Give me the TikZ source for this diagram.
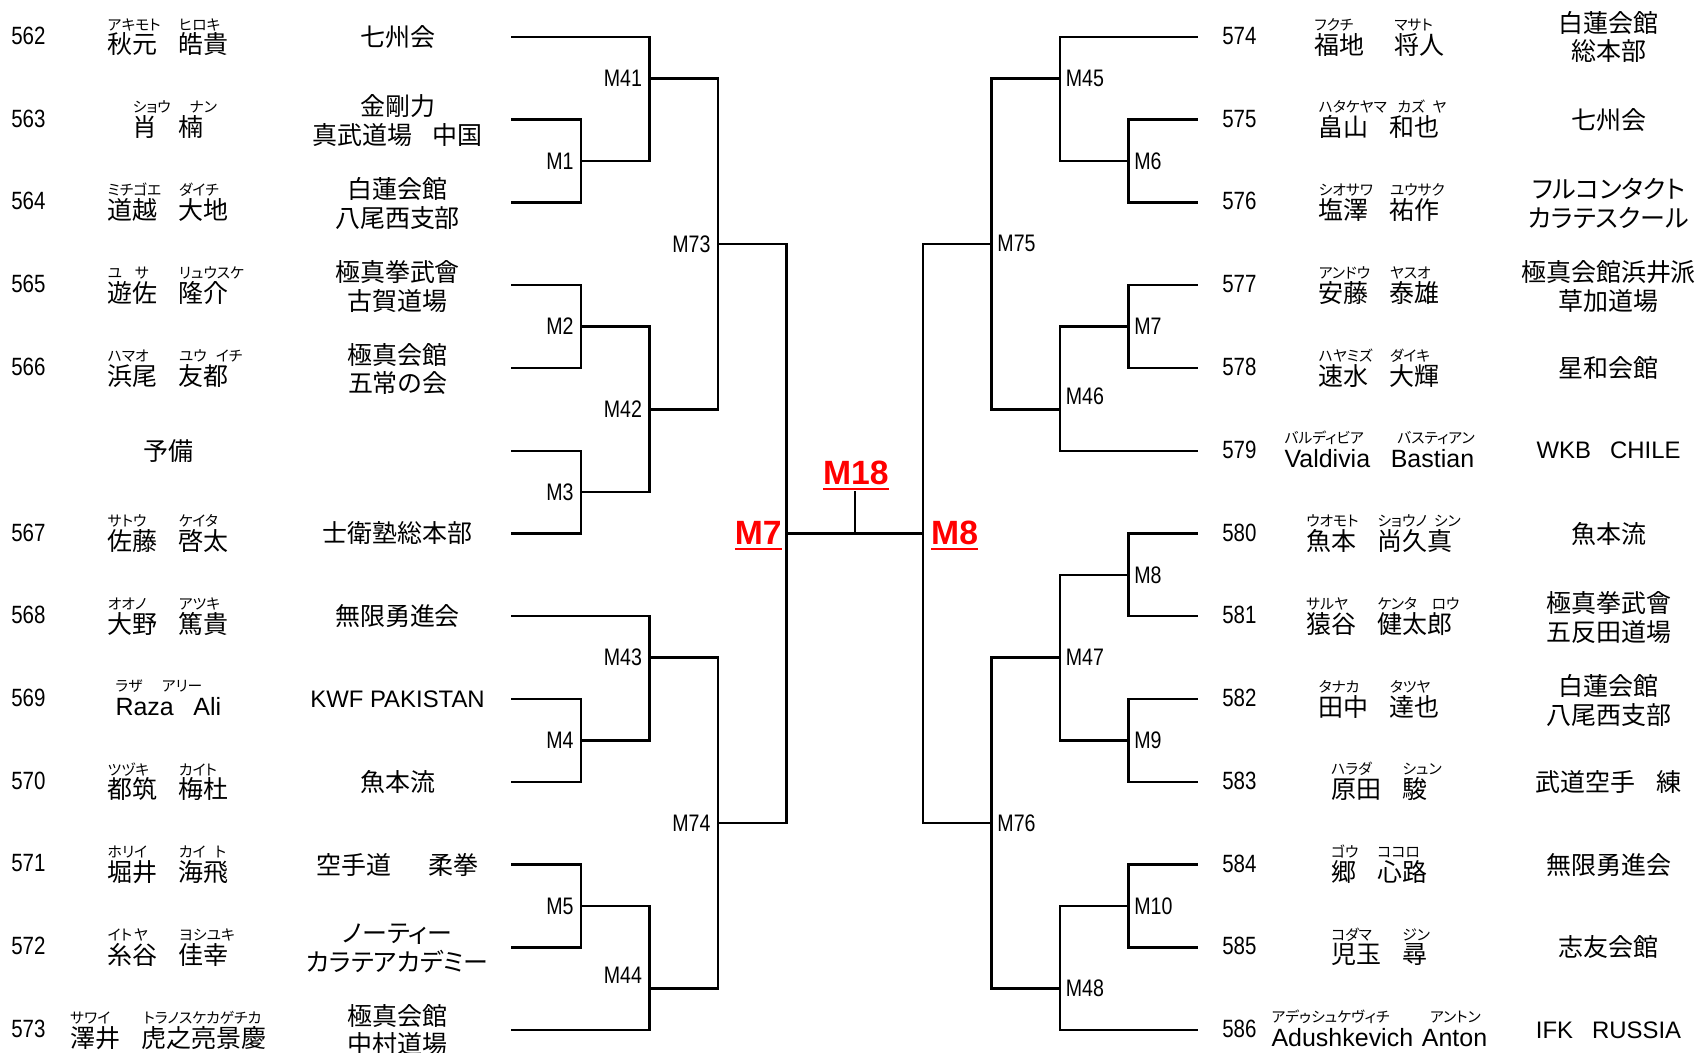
\documentclass[tikz,border=0pt]{standalone}
\usepackage{fontspec}
\setmainfont{Noto Sans CJK JP}
\newfontfamily\jp{Noto Sans CJK JP}
\newfontfamily\jpp[RawFeature=+palt]{Noto Sans CJK JP}
\newfontfamily\lat{Liberation Sans}
\newfontfamily\narrow[FakeStretch=0.82]{Liberation Sans}
\newcommand\rbf{\jpp\fontsize{6.8pt}{6.8pt}\selectfont}
\newcommand\rw[3][0pt]{\rlap{\hspace*{#1}\raisebox{11pt}[0pt][0pt]{\rbf #3}}{#2}}
\newcommand\gp{\hspace{0.85em}}
\newcommand\ry[1]{34+76.2*(#1)}
\newlength\ulw
\newcommand\ulred[1]{\settowidth\ulw{#1}\rlap{\rule[-2.8pt]{\ulw}{1pt}}#1}
\begin{document}
\begin{tikzpicture}[x=0.5pt,y=-0.5pt,
  brk/.style={line width=1.1pt,line cap=rect},
  num/.style={anchor=west,inner sep=0pt,font=\narrow\fontsize{11.5pt}{12pt}\selectfont},
  nm/.style={inner sep=0pt,font=\jp\fontsize{11.5pt}{13pt}\selectfont},
  dj/.style={inner sep=0pt,align=center,font=\jpp\fontsize{11.5pt}{13.25pt}\selectfont},
  ml/.style={inner sep=0pt,font=\narrow\fontsize{11pt}{12pt}\selectfont},
  mll/.style={ml,anchor=east,xshift=-3.25pt},
  mlr/.style={ml,anchor=west,xshift=2.5pt},
  fin/.style={inner sep=0pt,text=red,font=\lat\bfseries\fontsize{15.5pt}{16pt}\selectfont}]
\useasboundingbox (0,0) rectangle (1568,969);
\fill[white] (0,0) rectangle (1568,969);

% entry points
\foreach \k in {0,...,12}{
  \coordinate (L\k) at (472,{\ry{\k}});
  \coordinate (R\k) at (1102,{\ry{\k}});
}
% left junctions
\coordinate (m1)  at (535,{\ry{1.5}});
\coordinate (m41) at (598,{\ry{0.5}});
\coordinate (m2)  at (535,{\ry{3.5}});
\coordinate (m3)  at (535,{\ry{5.5}});
\coordinate (m42) at (598,{\ry{4.5}});
\coordinate (m73) at (661,{\ry{2.5}});
\coordinate (m4)  at (535,{\ry{8.5}});
\coordinate (m43) at (598,{\ry{7.5}});
\coordinate (m5)  at (535,{\ry{10.5}});
\coordinate (m44) at (598,{\ry{11.5}});
\coordinate (m74) at (661,{\ry{9.5}});
\coordinate (sfl) at (724,{\ry{6}});
% right junctions
\coordinate (m6)  at (1039,{\ry{1.5}});
\coordinate (m45) at (976,{\ry{0.5}});
\coordinate (mr7) at (1039,{\ry{3.5}});
\coordinate (m46) at (976,{\ry{4.5}});
\coordinate (m75) at (913,{\ry{2.5}});
\coordinate (mr8) at (1039,{\ry{6.5}});
\coordinate (m9)  at (1039,{\ry{8.5}});
\coordinate (m47) at (976,{\ry{7.5}});
\coordinate (m10) at (1039,{\ry{10.5}});
\coordinate (m48) at (976,{\ry{11.5}});
\coordinate (m76) at (913,{\ry{9.5}});
\coordinate (sfr) at (850,{\ry{6}});
\coordinate (fmid) at (787,{\ry{6}});
\coordinate (ftop) at (787,453);

% left bracket
\draw[brk] (L1) -| (m1) |- (L2);
\draw[brk] (L0) -| (m41) |- (m1);
\draw[brk] (L3) -| (m2) |- (L4);
\draw[brk] (L5) -| (m3) |- (L6);
\draw[brk] (m2) -| (m42) |- (m3);
\draw[brk] (m41) -| (m73) |- (m42);
\draw[brk] (L8) -| (m4) |- (L9);
\draw[brk] (L7) -| (m43) |- (m4);
\draw[brk] (L10) -| (m5) |- (L11);
\draw[brk] (m5) -| (m44) |- (L12);
\draw[brk] (m43) -| (m74) |- (m44);
\draw[brk] (m73) -| (sfl) |- (m74);
% right bracket
\draw[brk] (R1) -| (m6) |- (R2);
\draw[brk] (R0) -| (m45) |- (m6);
\draw[brk] (R3) -| (mr7) |- (R4);
\draw[brk] (mr7) -| (m46) |- (R5);
\draw[brk] (m45) -| (m75) |- (m46);
\draw[brk] (R6) -| (mr8) |- (R7);
\draw[brk] (R8) -| (m9) |- (R9);
\draw[brk] (mr8) -| (m47) |- (m9);
\draw[brk] (R10) -| (m10) |- (R11);
\draw[brk] (m10) -| (m48) |- (R12);
\draw[brk] (m47) -| (m76) |- (m48);
\draw[brk] (m75) -| (sfr) |- (m76);
% final
\draw[brk] (sfl) -- (sfr);
\draw[brk] (fmid) -- (ftop);

% match labels
\node[mll] (tM1) at (m1) {M1};
\node[mll] (tM41) at (m41) {M41};
\node[mll] (tM2) at (m2) {M2};
\node[mll] (tM3) at (m3) {M3};
\node[mll] (tM42) at (m42) {M42};
\node[mll] (tM73) at (m73) {M73};
\node[mll] (tM4) at (m4) {M4};
\node[mll] (tM43) at (m43) {M43};
\node[mll] (tM5) at (m5) {M5};
\node[mll,yshift=6pt] (tM44) at (m44) {M44};
\node[mll] (tM74) at (m74) {M74};
\node[mlr] (tM45) at (m45) {M45};
\node[mlr] (tM6) at (m6) {M6};
\node[mlr] (tM75) at (m75) {M75};
\node[mlr] (tM7r) at (mr7) {M7};
\node[mlr,yshift=6pt] (tM46) at (m46) {M46};
\node[mlr] (tM8r) at (mr8) {M8};
\node[mlr] (tM47) at (m47) {M47};
\node[mlr] (tM9) at (m9) {M9};
\node[mlr] (tM76) at (m76) {M76};
\node[mlr] (tM10) at (m10) {M10};
\node[mlr] (tM48) at (m48) {M48};
\node[fin,anchor=base east] (lM7) at (720,501) {\ulred{M7}};
\node[fin,anchor=base west] (lM8) at (857,501) {\ulred{M8}};
\node[fin,anchor=base] (lM18) at (788,446) {\ulred{M18}};

% numbers
\foreach \t/\r in {562/0,563/1,564/2,565/3,566/4,567/6,568/7,569/8,570/9,571/10,572/11,573/12}
  \node[num] (n\t) at (10,{\ry{\r}-1}) {\t};
\foreach \k in {0,...,12}{
  \pgfmathtruncatemacro\t{574+\k}
  \node[num] (n\t) at (1125,{\ry{\k}-1}) {\t};
}

% left names
\node[nm] (p562) at (155,{\ry{0}+7}) {\rw{秋元}{アキモト}\gp\rw{皓貴}{ヒロキ}};
\node[nm] (p563) at (155,{\ry{1}+7}) {\rw{肖}{ショウ}\gp\rw[5pt]{楠}{ナン}};
\node[nm] (p564) at (155,{\ry{2}+7}) {\rw{道越}{ミチゴエ}\gp\rw{大地}{ダイチ}};
\node[nm] (p565) at (155,{\ry{3}+7}) {\rw{遊}{ユ}\rw[1pt]{佐}{サ}\gp\rw{隆介}{リュウスケ}};
\node[nm] (p566) at (155,{\ry{4}+7}) {\rw{浜尾}{ハマオ}\gp\rw{友}{ユウ}\rw[5.5pt]{都}{イチ}};
\node[nm] (pyobi) at (155,{\ry{5}}) {予備};
\node[nm] (p567) at (155,{\ry{6}+7}) {\rw{佐藤}{サトウ}\gp\rw{啓太}{ケイタ}};
\node[nm] (p568) at (155,{\ry{7}+7}) {\rw{大野}{オオノ}\gp\rw{篤貴}{アツキ}};
\node[nm] (p569) at (155,{\ry{8}+7}) {\rw{{\lat Raza}}{ラザ}\hspace{9pt}\rw[-14.5pt]{{\lat Ali}}{アリー}};
\node[nm] (p570) at (155,{\ry{9}+7}) {\rw{都筑}{ツヅキ}\gp\rw{梅杜}{カイト}};
\node[nm] (p571) at (155,{\ry{10}+7}) {\rw{堀井}{ホリイ}\gp\rw{海}{カイ}\rw[5pt]{飛}{ト}};
\node[nm] (p572) at (155,{\ry{11}+7}) {\rw{糸}{イト}\rw[0.5pt]{谷}{ヤ}\gp\rw{佳幸}{ヨシユキ}};
\node[nm] (p573) at (155,{\ry{12}+7}) {\rw{澤井}{サワイ}\gp\rw[1pt]{虎之亮景慶}{トラノスケカゲチカ}};

% right names
\node[nm] (p574) at (1270,{\ry{0}+7}) {\rw{福地}{フクチ}\hspace{1.2em}\rw{将人}{マサト}};
\node[nm] (p575) at (1270,{\ry{1}+7}) {\rw{畠山}{ハタケヤマ}\gp\rw[3.5pt]{和}{カズ}\rw[8pt]{也}{ヤ}};
\node[nm] (p576) at (1270,{\ry{2}+7}) {\rw{塩澤}{シオサワ}\gp\rw{祐作}{ユウサク}};
\node[nm] (p577) at (1270,{\ry{3}+7}) {\rw{安藤}{アンドウ}\gp\rw{泰雄}{ヤスオ}};
\node[nm] (p578) at (1270,{\ry{4}+7}) {\rw{速水}{ハヤミズ}\gp\rw{大輝}{ダイキ}};
\node[nm] (p579) at (1270,{\ry{5}+7}) {\rw{{\lat Valdivia}}{バルディビア}\hspace{9.5pt}\rw[3pt]{{\lat Bastian}}{バスティアン}};
\node[nm] (p580) at (1270,{\ry{6}+7}) {\rw{魚本}{ウオモト}\gp\rw{尚久}{ショウノ}\rw[3pt]{真}{シン}};
\node[nm] (p581) at (1270,{\ry{7}+7}) {\rw{猿谷}{サルヤ}\gp\rw{健太}{ケンタ}\rw[2pt]{郎}{ロウ}};
\node[nm] (p582) at (1270,{\ry{8}+7}) {\rw{田中}{タナカ}\gp\rw{達也}{タツヤ}};
\node[nm] (p583) at (1270,{\ry{9}+7}) {\rw{原田}{ハラダ}\gp\rw{駿}{シュン}};
\node[nm] (p584) at (1270,{\ry{10}+7}) {\rw{郷}{ゴウ}\gp\rw{心路}{ココロ}};
\node[nm] (p585) at (1270,{\ry{11}+7}) {\rw{児玉}{コダマ}\gp\rw{尋}{ジン}};
\node[nm] (p586) at (1270,{\ry{12}+7}) {\rw{{\lat Adushkevich}}{アデゥシュケヴィチ}\hspace{4pt}\rw[3.8pt]{{\lat Anton}}{アントン}};

% left dojos
\node[dj] (d562) at (366,{\ry{0}}) {七州会};
\node[dj] (d563) at (366,{\ry{1}+1}) {金剛力\\真武道場\hspace{0.8em}中国};
\node[dj] (d564) at (366,{\ry{2}+1}) {白蓮会館\\八尾西支部};
\node[dj] (d565) at (366,{\ry{3}+1}) {極真拳武會\\古賀道場};
\node[dj] (d566) at (366,{\ry{4}+1}) {極真会館\\五常の会};
\node[dj] (d567) at (366,{\ry{6}}) {士衛塾総本部};
\node[dj] (d568) at (366,{\ry{7}}) {無限勇進会};
\node[dj,font=\lat\fontsize{11pt}{13pt}\selectfont] (d569) at (366,{\ry{8}}) {KWF PAKISTAN};
\node[dj] (d570) at (366,{\ry{9}}) {魚本流};
\node[dj] (d571) at (366,{\ry{10}}) {空手道\hspace{1.5em}柔拳};
\node[dj] (d572) at (366,{\ry{11}+1}) {ノーティー\\カラテアカデミー};
\node[dj] (d573) at (366,{\ry{12}}) {極真会館\\中村道場};

% right dojos
\node[dj] (d574) at (1481,{\ry{0}}) {白蓮会館\\総本部};
\node[dj] (d575) at (1481,{\ry{1}}) {七州会};
\node[dj] (d576) at (1481,{\ry{2}+1}) {フルコンタクト\\カラテスクール};
\node[dj] (d577) at (1481,{\ry{3}+1}) {極真会館浜井派\\草加道場};
\node[dj] (d578) at (1481,{\ry{4}}) {星和会館};
\node[dj,font=\lat\fontsize{11pt}{13pt}\selectfont] (d579) at (1481,{\ry{5}}) {WKB\hspace{0.8em}CHILE};
\node[dj] (d580) at (1481,{\ry{6}}) {魚本流};
\node[dj] (d581) at (1481,{\ry{7}+1}) {極真拳武會\\五反田道場};
\node[dj] (d582) at (1481,{\ry{8}+1}) {白蓮会館\\八尾西支部};
\node[dj] (d583) at (1481,{\ry{9}}) {武道空手\hspace{0.85em}練};
\node[dj] (d584) at (1481,{\ry{10}}) {無限勇進会};
\node[dj] (d585) at (1481,{\ry{11}}) {志友会館};
\node[dj,font=\lat\fontsize{11pt}{13pt}\selectfont] (d586) at (1481,{\ry{12}}) {IFK\hspace{0.8em}RUSSIA};
\end{tikzpicture}
\end{document}
